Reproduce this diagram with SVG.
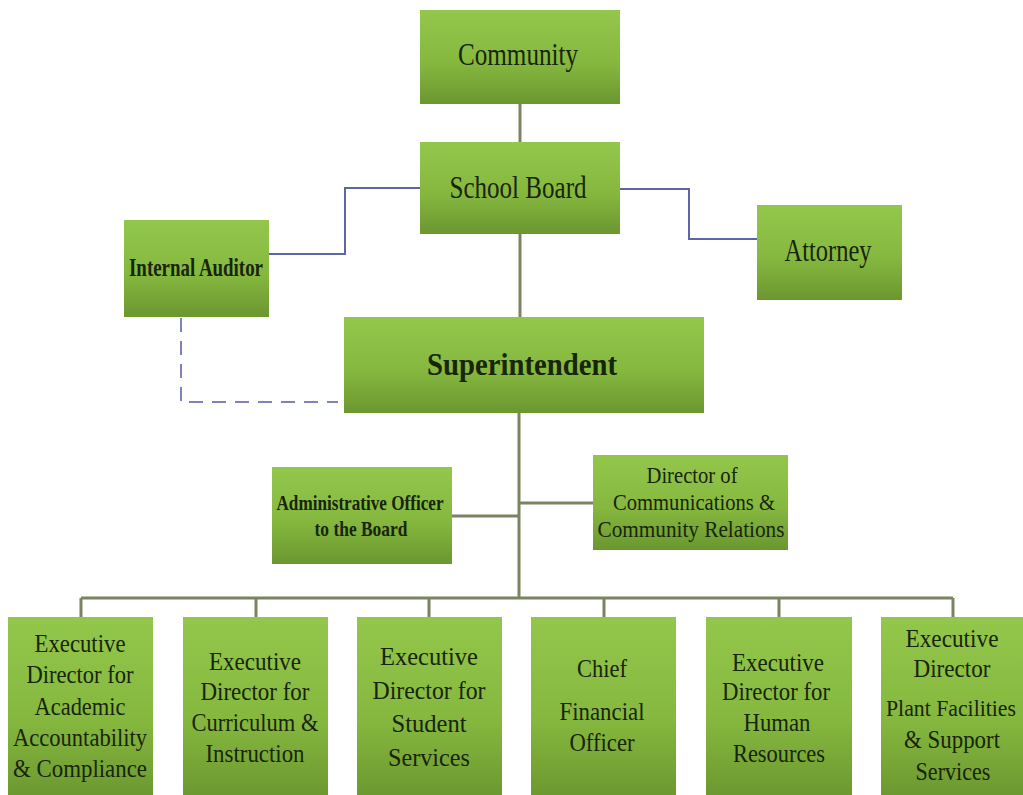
<svg xmlns="http://www.w3.org/2000/svg" width="1023" height="795" viewBox="0 0 1023 795">
<defs>
<linearGradient id="g" x1="0" y1="0" x2="0" y2="1">
<stop offset="0" stop-color="#93c74b"/>
<stop offset="0.55" stop-color="#86b83f"/>
<stop offset="1" stop-color="#6b972f"/>
</linearGradient>
<style>
.box{fill:url(#g);}
.t{fill:#17250a;text-anchor:middle;}
.b{font-weight:bold;}
.tree{stroke:#7a8461;stroke-width:3;fill:none;}
.blue{stroke:#5c66a6;stroke-width:2;fill:none;}
.dash{stroke:#7d82bd;stroke-width:2;fill:none;stroke-dasharray:14 9;}
</style>
</defs>
<rect width="1023" height="795" fill="#ffffff"/>
<g id="connectors">
<path class="tree" d="M520,104 V142"/>
<path class="tree" d="M520,234 V317"/>
<path class="blue" d="M420,188 H345 V254 H269"/>
<path class="blue" d="M620,189 H689 V239 H757"/>
<path class="dash" d="M181,318 V402 H338"/>
<path class="tree" d="M519,413 V598"/>
<path class="tree" d="M452,516 H519"/>
<path class="tree" d="M519,503 H593"/>
<path class="tree" d="M81,598 H953"/>
<path class="tree" d="M81,598 V617 M256,598 V617 M429,598 V617 M604,598 V617 M779,598 V617 M953,598 V617"/>
</g>
<g font-family="Liberation Serif, DejaVu Serif, serif">
<g id="community">
<rect class="box" x="420" y="10" width="200" height="94"/>
<text class="t" x="518" y="65" font-size="32" textLength="120" lengthAdjust="spacingAndGlyphs">Community</text>
</g>
<g id="school-board">
<rect class="box" x="420" y="142" width="200" height="92"/>
<text class="t" x="518" y="198" font-size="32" textLength="137" lengthAdjust="spacingAndGlyphs">School Board</text>
</g>
<g id="internal-auditor">
<rect class="box" x="124" y="220" width="145" height="97"/>
<text class="t b" x="196" y="276" font-size="25" textLength="134" lengthAdjust="spacingAndGlyphs">Internal Auditor</text>
</g>
<g id="attorney">
<rect class="box" x="757" y="205" width="145" height="95"/>
<text class="t" x="828" y="261" font-size="32" textLength="87" lengthAdjust="spacingAndGlyphs">Attorney</text>
</g>
<g id="superintendent">
<rect class="box" x="344" y="317" width="360" height="96"/>
<text class="t b" x="522" y="375" font-size="32" textLength="190" lengthAdjust="spacingAndGlyphs">Superintendent</text>
</g>
<g id="admin-officer">
<rect class="box" x="272" y="467" width="180" height="97"/>
<text class="t b" x="360" y="510" font-size="21" textLength="167" lengthAdjust="spacingAndGlyphs">Administrative Officer</text>
<text class="t b" x="361" y="536" font-size="21" textLength="93" lengthAdjust="spacingAndGlyphs">to the Board</text>
</g>
<g id="director-communications">
<rect class="box" x="593" y="455" width="195" height="95"/>
<text class="t" x="692" y="483" font-size="24" textLength="91" lengthAdjust="spacingAndGlyphs">Director of</text>
<text class="t" x="694" y="510" font-size="24" textLength="162" lengthAdjust="spacingAndGlyphs">Communications &amp;</text>
<text class="t" x="691" y="537" font-size="24" textLength="187" lengthAdjust="spacingAndGlyphs">Community Relations</text>
</g>
<g id="ed-academic">
<rect class="box" x="8" y="617" width="145" height="183"/>
<text class="t" x="80" y="652" font-size="26" textLength="91" lengthAdjust="spacingAndGlyphs">Executive</text>
<text class="t" x="80" y="683" font-size="26" textLength="107" lengthAdjust="spacingAndGlyphs">Director for</text>
<text class="t" x="80" y="715" font-size="26" textLength="91" lengthAdjust="spacingAndGlyphs">Academic</text>
<text class="t" x="80" y="746" font-size="26" textLength="134" lengthAdjust="spacingAndGlyphs">Accountability</text>
<text class="t" x="80" y="777" font-size="26" textLength="134" lengthAdjust="spacingAndGlyphs">&amp; Compliance</text>
</g>
<g id="ed-curriculum">
<rect class="box" x="183" y="617" width="145" height="183"/>
<text class="t" x="255" y="670" font-size="26" textLength="92" lengthAdjust="spacingAndGlyphs">Executive</text>
<text class="t" x="255" y="700" font-size="26" textLength="109" lengthAdjust="spacingAndGlyphs">Director for</text>
<text class="t" x="255" y="731" font-size="26" textLength="127" lengthAdjust="spacingAndGlyphs">Curriculum &amp;</text>
<text class="t" x="255" y="762" font-size="26" textLength="99" lengthAdjust="spacingAndGlyphs">Instruction</text>
</g>
<g id="ed-student">
<rect class="box" x="357" y="617" width="145" height="183"/>
<text class="t" x="429" y="665" font-size="26" textLength="98" lengthAdjust="spacingAndGlyphs">Executive</text>
<text class="t" x="429" y="699" font-size="26" textLength="113" lengthAdjust="spacingAndGlyphs">Director for</text>
<text class="t" x="429" y="732" font-size="26" textLength="75" lengthAdjust="spacingAndGlyphs">Student</text>
<text class="t" x="429" y="766" font-size="26" textLength="82" lengthAdjust="spacingAndGlyphs">Services</text>
</g>
<g id="cfo">
<rect class="box" x="531" y="617" width="145" height="183"/>
<text class="t" x="602" y="677" font-size="26" textLength="50" lengthAdjust="spacingAndGlyphs">Chief</text>
<text class="t" x="602" y="720" font-size="26" textLength="85" lengthAdjust="spacingAndGlyphs">Financial</text>
<text class="t" x="602" y="751" font-size="26" textLength="65" lengthAdjust="spacingAndGlyphs">Officer</text>
</g>
<g id="ed-hr">
<rect class="box" x="706" y="617" width="146" height="183"/>
<text class="t" x="778" y="671" font-size="26" textLength="92" lengthAdjust="spacingAndGlyphs">Executive</text>
<text class="t" x="776" y="700" font-size="26" textLength="108" lengthAdjust="spacingAndGlyphs">Director for</text>
<text class="t" x="777" y="731" font-size="26" textLength="67" lengthAdjust="spacingAndGlyphs">Human</text>
<text class="t" x="779" y="762" font-size="26" textLength="92" lengthAdjust="spacingAndGlyphs">Resources</text>
</g>
<g id="ed-plant">
<rect class="box" x="881" y="617" width="142" height="183"/>
<text class="t" x="952" y="647" font-size="26" textLength="93" lengthAdjust="spacingAndGlyphs">Executive</text>
<text class="t" x="952" y="677" font-size="26" textLength="77" lengthAdjust="spacingAndGlyphs">Director</text>
<text class="t" x="951" y="716" font-size="23" textLength="130" lengthAdjust="spacingAndGlyphs">Plant Facilities</text>
<text class="t" x="952" y="748" font-size="26" textLength="96" lengthAdjust="spacingAndGlyphs">&amp; Support</text>
<text class="t" x="953" y="780" font-size="26" textLength="75" lengthAdjust="spacingAndGlyphs">Services</text>
</g>
</g>
</svg>
